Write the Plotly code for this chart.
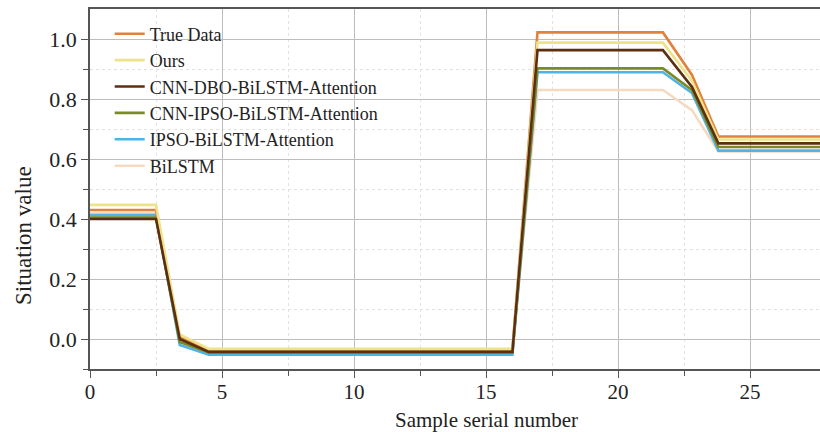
import plotly.graph_objects as go

# Sample positions
x = [0, 2.5, 3.4, 4.5, 16.0, 16.95, 21.7, 22.8, 23.8, 27.7]

true_data = [0.430, 0.430, 0.005, -0.035, -0.035, 1.022, 1.022, 0.880, 0.675, 0.675]
ours = [0.447, 0.447, 0.015, -0.033, -0.033, 0.988, 0.988, 0.860, 0.665, 0.665]
cnn_dbo = [0.400, 0.400, 0.000, -0.043, -0.043, 0.963, 0.963, 0.840, 0.652, 0.652]
cnn_ipso = [0.405, 0.405, -0.010, -0.045, -0.045, 0.902, 0.902, 0.830, 0.640, 0.640]
ipso = [0.413, 0.413, -0.020, -0.052, -0.052, 0.889, 0.889, 0.820, 0.628, 0.628]
bilstm = [0.420, 0.420, 0.010, -0.038, -0.038, 0.830, 0.830, 0.763, 0.625, 0.625]

names = ["True Data", "Ours", "CNN-DBO-BiLSTM-Attention",
         "CNN-IPSO-BiLSTM-Attention", "IPSO-BiLSTM-Attention", "BiLSTM"]
series = [true_data, ours, cnn_dbo, cnn_ipso, ipso, bilstm]
colors = ["#E0823D", "#EEE38A", "#5C2E12", "#7B8B23", "#4FB3E8", "#F5D9C0"]

x_ticks = [0, 5, 10, 15, 20, 25]
y_ticks = [0.0, 0.2, 0.4, 0.6, 0.8, 1.0]

fig = go.Figure()
# draw back-to-front while keeping legend order
order = [5, 4, 3, 0, 1, 2]
for i in order:
    fig.add_trace(go.Scatter(
        x=x, y=series[i], mode="lines", name=names[i],
        line=dict(color=colors[i], width=2.6),
        legendrank=i + 1,
    ))

font_family = "Liberation Serif"
fig.update_layout(
    width=820, height=432,
    margin=dict(l=90, r=0, t=9, b=63),
    paper_bgcolor="white", plot_bgcolor="white",
    font=dict(family=font_family, size=19, color="#222222"),
    showlegend=True,
    legend=dict(x=0.027, y=0.982, xanchor="left", yanchor="top",
                bgcolor="rgba(0,0,0,0)", font=dict(size=18, family=font_family),
                tracegroupgap=0, itemwidth=30),
    annotations=[
        dict(text="Sample serial number", xref="paper", yref="paper",
             x=0.5425, y=-0.103, xanchor="center", yanchor="top", showarrow=False,
             font=dict(size=21, family=font_family, color="#222222")),
        dict(text="Situation value", xref="paper", yref="paper", textangle=-90,
             x=-0.11, y=0.37, xanchor="left", yanchor="middle", showarrow=False,
             font=dict(size=23, family=font_family, color="#222222")),
    ],
)
fig.update_xaxes(
    range=[0, 27.65], tickvals=x_ticks, ticktext=[str(v) for v in x_ticks],
    showline=True, linecolor="#555555", linewidth=1.5, mirror=True,
    ticks="outside", ticklen=7, tickcolor="#555555", tickwidth=1.3,
    showgrid=True, gridcolor="#BDBDBD", gridwidth=1,
    zeroline=False, ticklabelstandoff=-4,
    minor=dict(tickvals=[2.5, 7.5, 12.5, 17.5, 22.5], ticks="outside", ticklen=5,
               tickcolor="#555555", showgrid=True, gridcolor="#E2E2E2", griddash="dot"),
    tickfont=dict(size=21, family=font_family),
)
fig.update_yaxes(
    range=[-0.1, 1.1], tickvals=y_ticks, ticktext=[f"{v:.1f}" for v in y_ticks],
    showline=True, linecolor="#555555", linewidth=1.5,
    ticks="outside", ticklen=7, tickcolor="#555555", tickwidth=1.3,
    showgrid=True, gridcolor="#BDBDBD", gridwidth=1,
    zeroline=False,
    minor=dict(tickvals=[-0.1, 0.1, 0.3, 0.5, 0.7, 0.9], ticks="outside", ticklen=5,
               tickcolor="#555555", showgrid=True, gridcolor="#E2E2E2", griddash="dot"),
    tickfont=dict(size=22, family=font_family),
)

fig.write_html("out.html")
